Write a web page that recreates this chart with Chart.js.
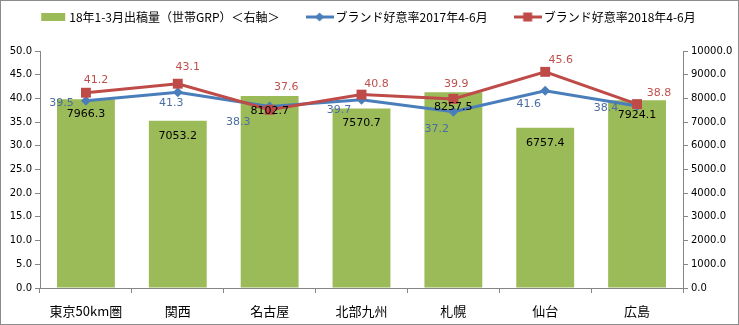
<!DOCTYPE html>
<html><head><meta charset="utf-8">
<script src="https://cdn.jsdelivr.net/npm/chart.js@4.4.1/dist/chart.umd.min.js"></script>
<style>html,body{margin:0;padding:0;background:#fff}canvas{display:block}</style>
</head><body>
<canvas id="c" width="739" height="325"></canvas>
<script>
// ---- data ----
const categories = ['東京50km圏','関西','名古屋','北部九州','札幌','仙台','広島'];
const grpValues = [7966.3, 7053.2, 8102.7, 7570.7, 8257.5, 6757.4, 7924.1];
const pref2017 = [39.5, 41.3, 38.3, 39.7, 37.2, 41.6, 38.4];
const pref2018 = [41.2, 43.1, 37.6, 40.8, 39.9, 45.6, 38.8];
const seriesNames = ['18年1-3月出稿量（世帯GRP）＜右軸＞', 'ブランド好意率2017年4-6月', 'ブランド好意率2018年4-6月'];
const leftAxis = {min: 0, max: 50, step: 5};
const rightAxis = {min: 0, max: 10000, step: 1000};

// ---- styling ----
const GREEN = '#9BBB59', BLUE = '#4A7EBB', RED = '#BE4B48';
const FONT = "'DejaVu Sans','Noto Sans CJK JP',sans-serif";
const JFONT = "'Noto Sans CJK JP','DejaVu Sans',sans-serif";
const AXIS = '#868686';
// label offsets (px) relative to the point, as placed in the original
const labelOffset2017 = [[-24.5,2],[-6.5,11],[-31.5,15.5],[-22.5,10],[-16.5,17],[-16.5,13],[-31,2]];
const labelOffset2018 = [[10,-12.7],[10,-17],[16.5,-23],[15,-10.6],[3,-15],[15.5,-12],[22,-11]];

Chart.defaults.font.family = FONT;
Chart.defaults.color = '#000';

function legendIcon(kind){
  const c = document.createElement('canvas');
  c.width = 28; c.height = 12;
  const g = c.getContext('2d');
  if (kind === 'bar'){
    g.fillStyle = GREEN; g.fillRect(2, 2, 24, 8);
  } else {
    const col = kind === 'blue' ? BLUE : RED;
    g.strokeStyle = col; g.lineWidth = 3;
    g.beginPath(); g.moveTo(0, 6); g.lineTo(28, 6); g.stroke();
    g.fillStyle = col;
    if (kind === 'blue'){
      g.beginPath(); g.moveTo(14, 1.5); g.lineTo(18.5, 6); g.lineTo(14, 10.5); g.lineTo(9.5, 6); g.closePath(); g.fill();
    } else {
      g.fillRect(9.5, 1.5, 9, 9);
    }
  }
  return c;
}
const icons = [legendIcon('bar'), legendIcon('blue'), legendIcon('red')];

const LEGEND_PAD = 30;
const LEGEND_TOP = 17 - 6 - LEGEND_PAD, PLOT_TOP = 51;
const layoutPlugin = {
  id: 'legendHeight',
  beforeLayout(chart){
    const lg = chart.legend;
    if (lg && !lg.__patched){
      const orig = lg.fit;
      lg.fit = function(){ orig.call(this); this.height = PLOT_TOP - LEGEND_TOP; };
      lg.__patched = true;
    }
  }
};

const labelPlugin = {
  id: 'valueLabels',
  afterDatasetsDraw(chart){
    const ctx = chart.ctx;
    ctx.save();
    ctx.font = '11px ' + FONT;
    ctx.textAlign = 'center';
    ctx.textBaseline = 'middle';
    const m0 = chart.getDatasetMeta(0);
    ctx.fillStyle = '#000';
    m0.data.forEach((el, i) => ctx.fillText(grpValues[i].toFixed(1), el.x, el.y + 15));
    const m1 = chart.getDatasetMeta(1);
    ctx.fillStyle = '#4A6EA3';
    m1.data.forEach((el, i) => ctx.fillText(pref2017[i].toFixed(1), el.x + labelOffset2017[i][0], el.y + labelOffset2017[i][1]));
    const m2 = chart.getDatasetMeta(2);
    ctx.fillStyle = '#C0504D';
    m2.data.forEach((el, i) => ctx.fillText(pref2018[i].toFixed(1), el.x + labelOffset2018[i][0], el.y + labelOffset2018[i][1]));
    ctx.restore();
  },
  afterDraw(chart){
    const ctx = chart.ctx;
    ctx.save();
    ctx.strokeStyle = '#8C8C8C'; ctx.lineWidth = 1;
    ctx.strokeRect(0.5, 0.5, chart.width - 1, chart.height - 1);
    ctx.restore();
  }
};

new Chart(document.getElementById('c'), {
  data: {
    labels: categories,
    datasets: [
      { type: 'bar', label: seriesNames[0], data: grpValues, yAxisID: 'y1', backgroundColor: GREEN,
        barPercentage: 1, categoryPercentage: 0.63, order: 2 },
      { type: 'line', label: seriesNames[1], data: pref2017, yAxisID: 'y', borderColor: BLUE, backgroundColor: BLUE,
        borderWidth: 3, pointStyle: 'rectRot', pointRadius: 5, pointBorderWidth: 0, pointBackgroundColor: BLUE, tension: 0, order: 1 },
      { type: 'line', label: seriesNames[2], data: pref2018, yAxisID: 'y', borderColor: RED, backgroundColor: RED,
        borderWidth: 3, pointStyle: 'rect', pointRadius: 7, pointBorderWidth: 0, pointBackgroundColor: RED, tension: 0, order: 0 }
    ]
  },
  options: {
    responsive: false,
    animation: false,
    events: [],
    layout: { padding: { top: LEGEND_TOP, left: 0, right: 0, bottom: 0 } },
    plugins: {
      tooltip: { enabled: false },
      legend: {
        position: 'top',
        labels: {
          font: { size: 12, family: JFONT },
          color: '#000',
          padding: LEGEND_PAD,
          usePointStyle: true,
          pointStyleWidth: 20,
          sort: (a, b) => a.datasetIndex - b.datasetIndex,
          generateLabels(chart){
            const items = Chart.defaults.plugins.legend.labels.generateLabels(chart);
            items.forEach(it => { it.pointStyle = icons[it.datasetIndex]; });
            return items;
          }
        }
      }
    },
    scales: {
      x: {
        grid: { drawOnChartArea: false, drawTicks: true, tickLength: 5, color: AXIS, offset: true },
        border: { color: AXIS },
        ticks: { font: { size: 13, family: JFONT }, color: '#000', padding: 10, maxRotation: 0, autoSkip: false },
        afterFit(s){ s.height = 37; }
      },
      y: {
        position: 'left', min: leftAxis.min, max: leftAxis.max,
        grid: { drawOnChartArea: false, tickLength: 5, color: AXIS },
        border: { color: AXIS },
        ticks: { stepSize: leftAxis.step, callback: v => Number(v).toFixed(1), font: { size: 10 }, color: '#000', padding: 3 },
        afterFit(s){ s.width = 40; }
      },
      y1: {
        position: 'right', min: rightAxis.min, max: rightAxis.max,
        grid: { drawOnChartArea: false, tickLength: 5, color: AXIS },
        border: { color: AXIS },
        ticks: { stepSize: rightAxis.step, callback: v => Number(v).toFixed(1), font: { size: 10 }, color: '#000', padding: 3 },
        afterFit(s){ s.width = 56; }
      }
    }
  },
  plugins: [layoutPlugin, labelPlugin]
});
</script>
</body></html>
